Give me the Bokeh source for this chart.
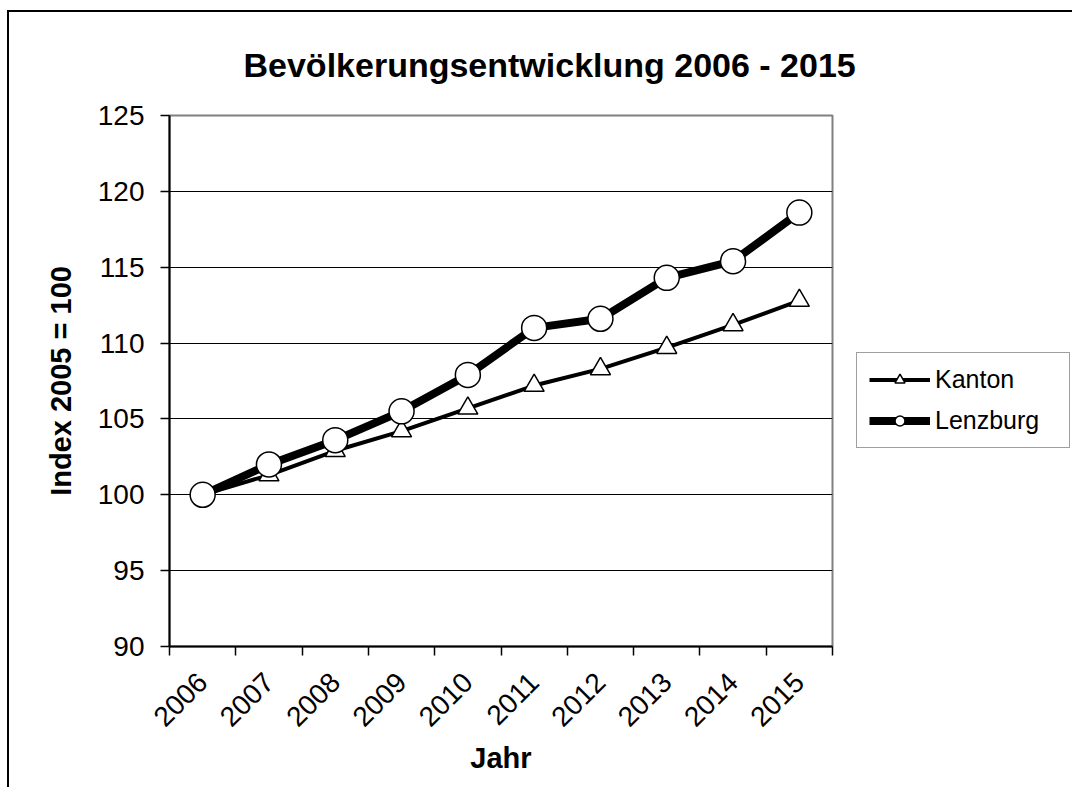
from math import pi
from bokeh.plotting import figure
from bokeh.models import (Range1d, FixedTicker, CustomJSTickFormatter, Legend,
                          LegendItem)
from bokeh.embed import file_html
from bokeh.resources import INLINE

# ---- data ----
years = ["2006", "2007", "2008", "2009", "2010", "2011", "2012", "2013", "2014", "2015"]
kanton = [100.0, 101.3, 102.9, 104.2, 105.7, 107.2, 108.3, 109.7, 111.2, 112.8]
lenzburg = [100.0, 102.0, 103.6, 105.5, 107.9, 111.0, 111.6, 114.3, 115.4, 118.6]
y_ticks = [90, 95, 100, 105, 110, 115, 120, 125]
grid_ticks = [95, 100, 105, 110, 115, 120]

FONT = "Liberation Sans"

# category centres (index + 0.5), boundaries at integers
xc = [i + 0.5 for i in range(len(years))]
bounds = list(range(len(years) + 1))

p = figure(frame_width=663, frame_height=531, output_backend="svg",
           toolbar_location=None,
           x_range=Range1d(0, len(years)), y_range=Range1d(y_ticks[0], y_ticks[-1]),
           min_border_left=160, min_border_right=238, min_border_top=102,
           min_border_bottom=141, background_fill_color="white",
           border_fill_color="white")
p.styles = {"border-left": "2px solid black", "border-top": "2px solid black",
            "margin-top": "10px", "margin-left": "7px"}

# title
p.title.text = "Bevölkerungsentwicklung 2006 - 2015"
p.title.text_font = FONT
p.title.text_font_size = "34px"
p.title.text_font_style = "bold"
p.title.text_color = "black"
p.title.align = "left"
p.title.offset = 74
p.title.standoff = 63

# frame outline
p.outline_line_color = "#808080"
p.outline_line_width = 2

# grid
p.xgrid.visible = False
p.ygrid.ticker = FixedTicker(ticks=grid_ticks)
p.ygrid.grid_line_color = "black"
p.ygrid.grid_line_width = 1

# x axis
xa = p.xaxis[0]
xa.ticker = FixedTicker(ticks=xc, minor_ticks=bounds)
xa.formatter = CustomJSTickFormatter(args=dict(labels=years),
                                     code="return labels[Math.floor(tick)];")
xa.major_tick_out = 0
xa.major_tick_in = 0
xa.minor_tick_out = 9
xa.minor_tick_in = 0
xa.minor_tick_line_color = "black"
xa.minor_tick_line_width = 1.5
xa.axis_line_color = "black"
xa.axis_line_width = 2
xa.major_label_orientation = pi / 4
xa.major_label_text_font = FONT
xa.major_label_text_font_size = "28px"
xa.major_label_text_color = "black"
xa.major_label_standoff = 22
xa.axis_label = "Jahr"
xa.axis_label_text_font = FONT
xa.axis_label_text_font_size = "29px"
xa.axis_label_text_font_style = "bold"
xa.axis_label_text_color = "black"
xa.axis_label_standoff = 4

# y axis
ya = p.yaxis[0]
ya.ticker = FixedTicker(ticks=y_ticks)
ya.major_tick_out = 9
ya.major_tick_in = 0
ya.minor_tick_out = 0
ya.minor_tick_in = 0
ya.major_tick_line_color = "black"
ya.major_tick_line_width = 1.5
ya.axis_line_color = "black"
ya.axis_line_width = 2
ya.major_label_text_font = FONT
ya.major_label_text_font_size = "28px"
ya.major_label_text_color = "black"
ya.major_label_standoff = 16
ya.axis_label = "Index 2005 = 100"
ya.axis_label_text_font = FONT
ya.axis_label_text_font_size = "29px"
ya.axis_label_text_font_style = "bold"
ya.axis_label_text_color = "black"
ya.axis_label_standoff = 18

# series
kl = p.line(xc, kanton, line_color="black", line_width=4)
ks = p.scatter(xc, kanton, marker="triangle", size=20, fill_color="white",
               line_color="black", line_width=1.5)
ll = p.line(xc, lenzburg, line_color="black", line_width=8)
ls = p.scatter(xc, lenzburg, marker="circle", size=25, fill_color="white",
               line_color="black", line_width=1.5)

legend = Legend(items=[LegendItem(label="Kanton", renderers=[kl, ks]),
                       LegendItem(label="Lenzburg", renderers=[ll, ls])],
                location=(24, 198), orientation="vertical",
                glyph_width=61, glyph_height=25, label_height=25,
                label_width=122,
                label_standoff=5, spacing=12, padding=12, margin=0,
                label_text_font=FONT, label_text_font_size="25px",
                label_text_color="black",
                border_line_color="#404040", border_line_width=1.5,
                background_fill_color="white", background_fill_alpha=1.0)
p.add_layout(legend, "right")

open("out.html", "w").write(file_html(p, INLINE))
